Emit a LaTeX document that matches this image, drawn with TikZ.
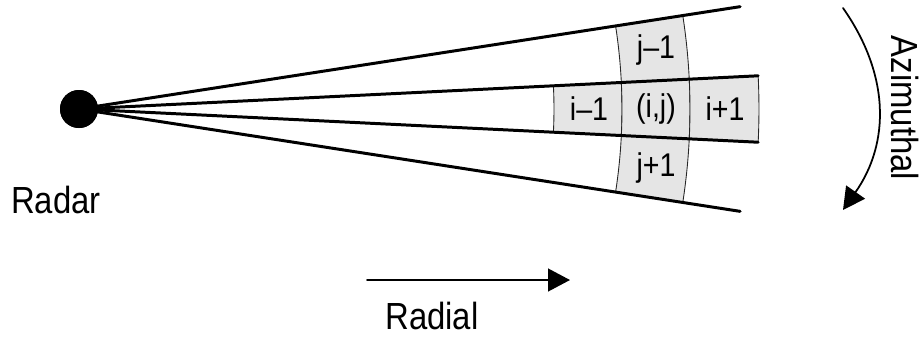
\documentclass[tikz,border=0pt]{standalone}
\usepackage{fontspec}
\setmainfont[FakeStretch=0.87]{Liberation Sans}
\usetikzlibrary{arrows.meta}
\begin{document}
\begin{tikzpicture}[x=0.02cm, y=0.02cm, line cap=round, >={Triangle[length=12.5pt,width=13pt]},
  cell/.style={draw=black!85, line width=0.5pt, fill=black!10},
  ray/.style={line width=1.7pt},
  lbl/.style={font=\fontsize{21.5}{24}\selectfont},
  celllbl/.style={font=\fontsize{18.7}{21}\selectfont}]
\useasboundingbox (-79,-227) rectangle (841,109);
% Radar
\node[circle, fill=black, inner sep=0pt, minimum size=0.76cm] (radar) at (0,0) {};
\node[lbl] (radarlbl) at (-23,-91) {Radar};
% Cells around (i,j)
\foreach \ra/\rb/\aa/\ab in {475/543/-2.8/2.8, 543/611/-2.8/2.8, 611/680/-2.8/2.8, 543/611/2.8/8.8, 543/611/-8.8/-2.8} {
\filldraw[cell] (\aa:\ra) arc[start angle=\aa, end angle=\ab, radius=\ra] -- (\ab:\rb) arc[start angle=\ab, end angle=\aa, radius=\rb] -- cycle;
}
\node[celllbl] (im1) at (0:510) {i--1};
\node[celllbl] (ij) at (0:577) {(i,j)};
\node[celllbl] (ip1) at (0:646) {i+1};
\node[celllbl] (jm1) at (5.8:580) {j--1};
\node[celllbl] (jp1) at (-5.8:580) {j+1};
% Beams
\foreach \i/\a/\r in {1/8.8/669, 2/2.8/680, 3/-2.8/680, 4/-8.8/669} {
\coordinate (ray\i) at (\a:\r);
\draw[ray] (radar.center) -- (ray\i);
}
\node[circle, fill=black, inner sep=0pt, minimum size=0.76cm] at (radar) {};
% Radial direction
\coordinate (rs) at (288,-171);
\coordinate (re) at (491,-171);
\draw[->, line width=1pt] (rs) -- (re);
\node[lbl, inner sep=1pt] (radial) at (353,-207) {Radial};
% Azimuthal direction
\coordinate (as) at (764,101);
\coordinate (ae) at (764,-101);
\draw[->, line width=1pt] (as) .. controls (811,34) and (811,-34) .. (ae);
\node[lbl, rotate=-90] (azim) at (826,1) {Azimuthal};
\end{tikzpicture}
\end{document}
